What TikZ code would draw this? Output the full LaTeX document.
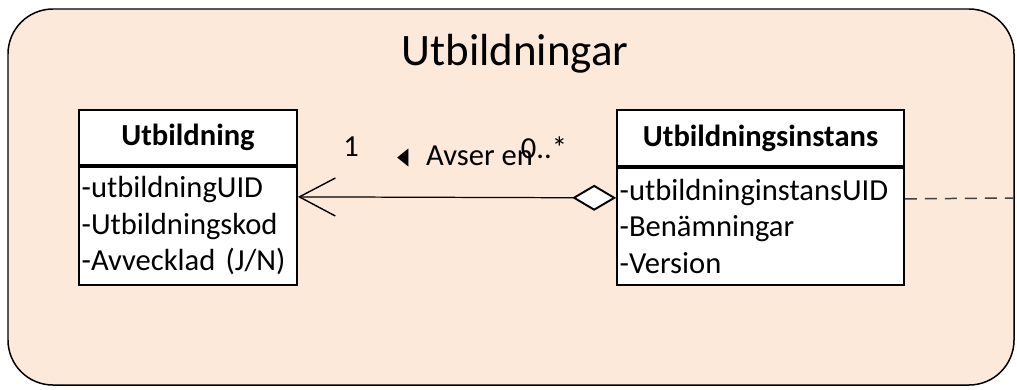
\documentclass[tikz,border=0pt]{standalone}
\usepackage{fontspec}
\setmainfont{Carlito}
\newfontfamily\symfont{DejaVu Sans}
\usetikzlibrary{positioning,arrows.meta}
\definecolor{pkgfill}{HTML}{FDE9D9}
\definecolor{dashgray}{HTML}{404040}
\tikzset{
  pkgframe/.style={draw=black, line width=0.85pt, fill=pkgfill, rounded corners=0.9cm},
  classhead/.style={draw=black, line width=1pt, fill=white, inner sep=0pt,
    font=\fontsize{17.4}{20}\selectfont\bfseries},
  classbody/.style={draw=black, line width=1pt, fill=white, inner xsep=1.5pt, inner ysep=0pt,
    align=left, font=\fontsize{17.4}{20.8}\selectfont},
  assoc/.style={line width=0.7pt, {Diamond[length=0.88cm,width=0.52cm,fill=white,line width=1.1pt]}-{Straight Barb[length=0.72cm,width=0.76cm,line width=0.8pt]}},
  tracelink/.style={draw=dashgray, line width=0.85pt, dash pattern=on 0.24cm off 0.16cm},
  rolelabel/.style={inner sep=0pt, font=\fontsize{17.4}{20}\selectfont}
}
\begin{document}
\begin{tikzpicture}[x=0.02cm,y=-0.02cm]
\useasboundingbox (0,0) rectangle (1017,389);
% package frame
\draw[pkgframe] (8,9) rectangle (1014,385);
\node[font=\fontsize{25.6}{30}\selectfont, inner sep=0pt] (pkgtitle) at (515,54) {Utbildningar};
% classes
\node[classhead, minimum width=4.36cm, minimum height=1.1cm] (utbhead) at (188,137.5) {Utbildning};
\node[classbody, text width=4.36cm-3pt, minimum height=2.36cm, below=0pt of utbhead] (utbbody)
  {-utbildningUID\\-Utbildningskod\\-Avvecklad (J/N)};
\node[classhead, minimum width=5.74cm, minimum height=1.12cm] (insthead) at (760.5,138) {Utbildningsinstans};
\node[classbody, text width=5.74cm-3pt, minimum height=2.34cm, below=0pt of insthead] (instbody)
  {-utbildninginstansUID\\-Benämningar\\-Version};
% association
\draw[assoc] ([yshift=-0.62cm]instbody.north west) -- ([yshift=-0.62cm]utbbody.north east);
\node[rolelabel] (multone) at (351,147) {1};
\node[rolelabel] (multmany) at (544,148) {0..*};
\node[rolelabel] (assocname) at (465,157) {\raisebox{-1pt}{\scalebox{1}[1.6]{\symfont\fontsize{13}{14}\selectfont ◂}}\hspace{10pt}Avser en};
% link leaving the package
\coordinate (exitpt) at (1013,198);
\draw[tracelink] ([yshift=-0.64cm]instbody.north east) -- (exitpt);
\end{tikzpicture}
\end{document}
